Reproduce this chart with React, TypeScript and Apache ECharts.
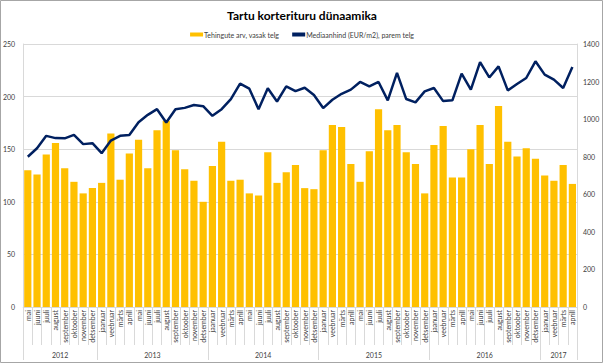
import React, { useEffect, useRef } from "react";
import * as echarts from "echarts";

const monthNames = ["jaanuar", "veebruar", "märts", "aprill", "mai", "juuni", "juuli", "august", "september", "oktoober", "november", "detsember"];
const years = ["2012", "2013", "2014", "2015", "2016", "2017"];
const monthsPerYear = [8, 12, 12, 12, 12, 4];
const firstMonthIndex = 4; // mai 2012

const deals = [
  130, 126, 145, 156, 132, 119, 108, 113,
  118, 165, 121, 146, 159, 132, 168, 177, 149, 131, 120, 100,
  134, 157, 120, 121, 108, 106, 147, 118, 128, 135, 113, 112,
  149, 173, 171, 136, 119, 148, 188, 168, 173, 147, 136, 108,
  154, 172, 123, 123, 150, 173, 136, 191, 157, 143, 151, 141,
  125, 120, 135, 117,
];

const medianPrice = [
  800, 845, 911, 899, 898, 916, 867, 872,
  819, 886, 911, 916, 984, 1023, 1053, 982, 1053, 1060, 1075, 1069,
  1018, 1053, 1107, 1189, 1162, 1053, 1164, 1094, 1174, 1149, 1167, 1128,
  1059, 1103, 1135, 1157, 1198, 1174, 1198, 1100, 1246, 1107, 1089, 1148,
  1166, 1096, 1100, 1242, 1157, 1304, 1222, 1281, 1153, 1187, 1219, 1308,
  1237, 1210, 1166, 1278,
];

const leftTicks = { min: 0, max: 250, interval: 50 };
const rightTicks = { min: 0, max: 1400, interval: 200 };

// month categories
const months: string[] = [];
{
  let m = firstMonthIndex;
  monthsPerYear.forEach((n) => {
    for (let k = 0; k < n; k++) {
      months.push(monthNames[m % 12]);
      m++;
    }
    m = 0;
  });
}

// year axis: boundary points (61), labels at centre of each year group
const yearBoundaries: number[] = [0];
const yearPoints: string[] = new Array(months.length + 1).fill("");
{
  let start = 0;
  monthsPerYear.forEach((n, i) => {
    yearPoints[start + n / 2] = years[i];
    start += n;
    yearBoundaries.push(start);
  });
}

const FONT = "Lato, 'Open Sans', sans-serif";
const GRID_COLOR = "#d9d9d9";
const LABEL_COLOR = "#404040";

export default function App() {
  const ref = useRef<HTMLDivElement>(null);
  useEffect(() => {
    document.body.style.margin = "0";
    const chart = echarts.init(ref.current!, undefined, { renderer: "svg" });
    chart.setOption({
      animation: false,
      backgroundColor: "#fff",
      textStyle: { fontFamily: FONT },
      title: {
        text: "Tartu korterituru dünaamika",
        left: "center",
        top: 4,
        textStyle: { fontSize: 12, fontWeight: "bold", color: "#000", fontFamily: FONT },
      },
      legend: {
        top: 26,
        left: "center",
        itemGap: 13,
        itemWidth: 13,
        itemHeight: 4,
        textStyle: { fontSize: 7, color: LABEL_COLOR, fontFamily: FONT, padding: [0, 0, 0, -4] },
        data: [
          { name: "Tehingute arv, vasak telg", icon: "rect" },
          { name: "Mediaanhind (EUR/m2), parem telg", icon: "rect" },
        ],
      },
      graphic: [
        {
          type: "rect",
          shape: { x: 0.5, y: 0.5, width: 602, height: 362 },
          style: { fill: "none", stroke: "#a6a6a6", lineWidth: 1 },
          silent: true,
        },
      ],
      grid: { left: 23, right: 27, top: 44, bottom: 57, containLabel: false },
      xAxis: [
        {
          type: "category",
          data: months,
          position: "bottom",
          axisLine: { show: true, lineStyle: { color: GRID_COLOR } },
          axisTick: { show: true, interval: 0, length: 38, lineStyle: { color: GRID_COLOR } },
          axisLabel: { interval: 0, rotate: 90, fontSize: 7, margin: 3, color: LABEL_COLOR, fontFamily: FONT },
        },
        {
          type: "category",
          data: yearPoints,
          boundaryGap: false,
          position: "bottom",
          axisLine: { show: false },
          axisTick: {
            show: true,
            interval: (index: number) => yearBoundaries.indexOf(index) >= 0,
            length: 53,
            lineStyle: { color: GRID_COLOR },
          },
          axisLabel: { interval: 0, fontSize: 7, margin: 44, color: LABEL_COLOR, fontFamily: FONT },
        },
      ],
      yAxis: [
        {
          type: "value",
          ...leftTicks,
          position: "left",
          axisLine: { show: true, lineStyle: { color: GRID_COLOR } },
          axisTick: { show: false },
          splitLine: { show: true, lineStyle: { color: GRID_COLOR } },
          axisLabel: { fontSize: 7, margin: 8, color: LABEL_COLOR, fontFamily: FONT },
        },
        {
          type: "value",
          ...rightTicks,
          position: "right",
          axisLine: { show: true, lineStyle: { color: GRID_COLOR } },
          axisTick: { show: false },
          splitLine: { show: false },
          axisLabel: {
            fontSize: 7,
            margin: 6,
            color: LABEL_COLOR,
            fontFamily: FONT,
            formatter: (v: number) => String(v),
          },
        },
      ],
      series: [
        {
          name: "Tehingute arv, vasak telg",
          type: "bar",
          xAxisIndex: 0,
          yAxisIndex: 0,
          data: deals,
          barCategoryGap: "22%",
          itemStyle: { color: "#ffc000" },
        },
        {
          name: "Mediaanhind (EUR/m2), parem telg",
          type: "line",
          xAxisIndex: 0,
          yAxisIndex: 1,
          data: medianPrice,
          symbol: "none",
          lineStyle: { color: "#002060", width: 2.5 },
          itemStyle: { color: "#002060" },
        },
      ],
    });
    return () => chart.dispose();
  }, []);
  return <div ref={ref} style={{ position: "fixed", left: 0, top: 0, width: 604, height: 364 }} />;
}
